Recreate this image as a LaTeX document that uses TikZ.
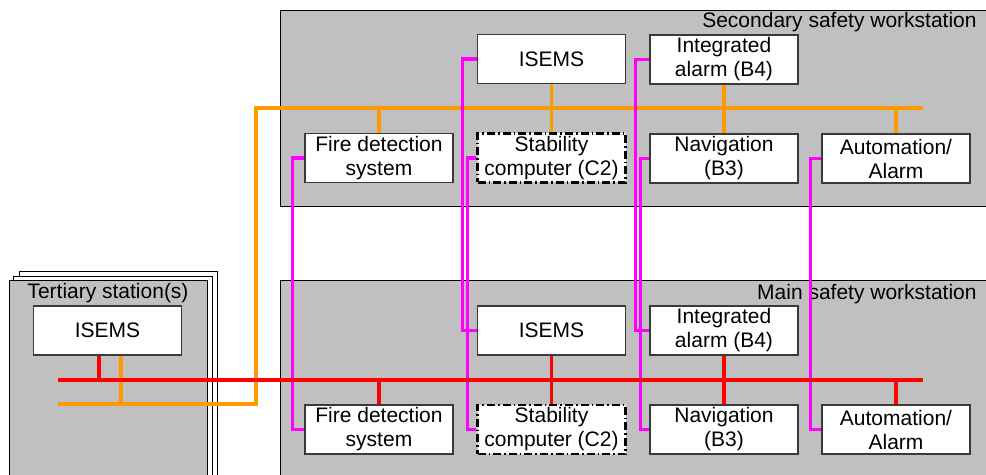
\documentclass[tikz,border=0pt]{standalone}
\usepackage{fontspec}
\setmainfont{Liberation Sans}
\usetikzlibrary{calc}
\pgfdeclarelayer{panel}
\pgfdeclarelayer{wires}
\pgfsetlayers{panel,wires,main}
\definecolor{panelgray}{HTML}{C0C0C0}
\definecolor{busorange}{HTML}{FF9900}
\definecolor{linkpink}{RGB}{255,0,255}
\definecolor{busred}{RGB}{255,0,0}
\definecolor{boxedge}{HTML}{3A3A3A}
\begin{document}
\begin{tikzpicture}[x=0.5pt,y=-0.5pt,
  font=\fontsize{10.5}{12}\selectfont,
  unit/.style={draw=boxedge, fill=white, line width=0.7pt,
    minimum width=74pt, minimum height=24.5pt, inner sep=0pt, align=center},
  dashunit/.style={unit, draw=black, line width=1.1pt,
    dash pattern=on 4pt off 1.5pt on 0.8pt off 1.5pt},
  panelbox/.style={draw=black, fill=panelgray, line width=0.5pt},
  sheet/.style={draw=black, fill=white, line width=0.5pt},
  obus/.style={draw=busorange, line width=1.7pt},
  rbus/.style={draw=busred, line width=1.7pt},
  link/.style={draw=linkpink, line width=1.6pt}]
\useasboundingbox (0,0) rectangle (986,475);

% workstation panels and the stacked tertiary stations
\begin{pgfonlayer}{panel}
  \draw[panelbox] (280.5,10.5) rectangle (1000,207) coordinate (secCorner);
  \draw[panelbox] (280.5,281) rectangle (1000,495) coordinate (mainCorner);
  \draw[sheet] (19,272) rectangle (217,495);
  \draw[sheet] (13,276.5) rectangle (212,495);
  \draw[panelbox] (9,281) rectangle (207,495);
  \node[anchor=east, inner sep=0pt] (secTitle) at (977,22) {Secondary safety workstation};
  \node[anchor=east, inner sep=0pt] (mainTitle) at (977,294) {Main safety workstation};
  \node (terTitle) at (108,293) {Tertiary station(s)};
\end{pgfonlayer}

% units of the secondary workstation
\node[unit] (sIS)   at (551.5,59)  {ISEMS};
\node[unit] (sInt)  at (724,59.5)  {Integrated\\alarm (B4)};
\node[unit] (sFire) at (379,158)   {Fire detection\\system};
\node[dashunit] (sStab) at (551.5,158) {Stability\\computer (C2)};
\node[unit] (sNav)  at (724,158.5) {Navigation\\(B3)};
\node[unit] (sAuto) at (896,158.5) {Automation/\\Alarm};

% units of the main workstation
\node[unit] (mIS)   at (551.5,330.5) {ISEMS};
\node[unit] (mInt)  at (724,330.5)   {Integrated\\alarm (B4)};
\node[unit] (mFire) at (379,429.5)   {Fire detection\\system};
\node[dashunit] (mStab) at (551.5,429.5) {Stability\\computer (C2)};
\node[unit] (mNav)  at (724,429.5)   {Navigation\\(B3)};
\node[unit] (mAuto) at (896,429.5)   {Automation/\\Alarm};

% tertiary station unit
\node[unit] (tIS) at (107.5,330.5) {ISEMS};

\begin{pgfonlayer}{wires}
  % secondary (orange) network
  \coordinate (oW) at (58,404);
  \coordinate (oBend) at (256,404);
  \coordinate (oE) at (923,108);
  \draw[obus] (oW) -- (oBend) |- (oE);
  \draw[obus] (sFire.north) -- (sFire.north |- oE);
  \draw[obus] (sIS.south) -- (sStab.north);
  \draw[obus] (sInt.south) -- (sNav.north);
  \draw[obus] (sAuto.north) -- (sAuto.north |- oE);
  \draw[obus] ($(tIS.south)+(13.5,0)$) coordinate (to) -- (to |- oW);

  % direct links between paired units
  \draw[link] (sIS.west) -- ++(-14,0) |- (mIS.west);
  \draw[link] (sStab.west) -- ++(-9,0) |- (mStab.west);
  \draw[link] (sFire.west) -- ++(-12,0) |- (mFire.west);
  \draw[link] (sInt.west) -- ++(-14,0) |- (mInt.west);
  \draw[link] (sNav.west) -- ++(-9,0) |- (mNav.west);
  \draw[link] (sAuto.west) -- ++(-11,0) |- (mAuto.west);

  % main (red) network
  \coordinate (rW) at (58,380);
  \coordinate (rE) at (923,380);
  \draw[rbus] (rW) -- (rE);
  \draw[rbus] ($(tIS.south)+(-8.5,0)$) coordinate (tr) -- (tr |- rW);
  \draw[rbus] (mFire.north) -- (mFire.north |- rW);
  \draw[rbus] (mIS.south) -- (mStab.north);
  \draw[rbus] (mInt.south) -- (mNav.north);
  \draw[rbus] (mAuto.north) -- (mAuto.north |- rW);
\end{pgfonlayer}
\end{tikzpicture}
\end{document}
